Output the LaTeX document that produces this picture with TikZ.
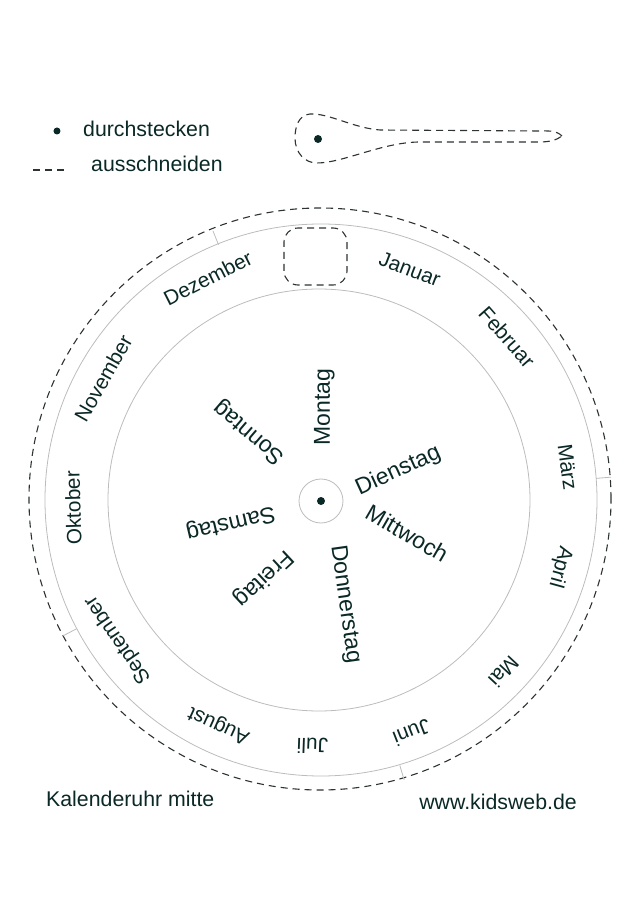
\documentclass[tikz,border=0pt]{standalone}
\usepackage{fontspec}
\setmainfont{Liberation Sans}
\usepackage{xcolor}
\usepackage{tikz}

\definecolor{ink}{RGB}{10,40,38}
\definecolor{rim}{RGB}{188,188,188}
\definecolor{cut}{RGB}{45,50,50}

\begin{document}
\begin{tikzpicture}[
    x=1pt, y=1pt,
    month/.style={text=ink, font=\fontsize{20.8}{24}\selectfont, inner sep=0pt},
    day/.style={text=ink, font=\fontsize{23}{27}\selectfont, inner sep=0pt},
    label/.style={text=ink, font=\fontsize{21.3}{25}\selectfont, inner sep=0pt},
    rimline/.style={draw=rim, line width=0.8pt},
    cutline/.style={draw=cut, line width=1.1pt, dash pattern=on 7pt off 5pt}
]
\useasboundingbox (-321,-404) rectangle (319,501);

% key
\fill[ink] (-264,370) circle (3.5);
\node[label, anchor=base west] (pierce) at (-238,364) {durchstecken};
\coordinate (cutA) at (-288,331);
\coordinate (cutB) at (-253,331);
\draw[cutline] (cutA) -- (cutB);
\node[label, anchor=base west] (cutout) at (-230,329) {ausschneiden};

% pointer
\draw[cutline] (241,365) .. controls (235,371) and (226,370) .. (219,370) -- (59,371)
    .. controls (32,373) and (8,388) .. (-11,387) .. controls (-22,386) and (-26,375) .. (-26,363)
    .. controls (-26,348) and (-16,338) .. (-4,338) .. controls (22,338) and (62,359) .. (99,359)
    -- (219,359) .. controls (228,359) and (236,361) .. cycle;
\fill[ink] (-3,362) circle (4);

% wheel
\draw[cutline] (-1,2) circle (291);
\draw[rimline] (0,1) circle (276);
\draw[rimline] (-2,1) circle (211);
\draw[rimline] (0,0) circle (22);
\fill[ink] (0,0) circle (4);
\foreach \a in {111.8, 4.7, -73.4, 207.6}
  \draw[rimline] (\a:276) -- (\a:291);
\draw[cutline, rounded corners=14pt] (-37,216) rectangle (26,273);

\foreach \name/\a/\r [count=\i] in {Januar/69/248, Februar/41.4/248, März/7.8/249,
    April/-15.4/248, Mai/-43/250, Juni/-68.6/249, Juli/-92/245, August/-114.5/246,
    September/-145.6/246, Oktober/-178.4/248, November/150.6/250, Dezember/116.9/250}
  \node[month, rotate=\a-90] (m\i) at (\a:\r) {\name};

\foreach \name/\a/\r/\t [count=\i] in {Montag/88/94/90, Dienstag/21.2/83/24.6,
    Mittwoch/-20.6/92/-30, Donnerstag/-76.9/106/-82, Freitag/-126.7/96/-137,
    Samstag/-166.4/93/-166.6, Sonntag/136/99/139.3}
  \node[day, rotate=\t] (d\i) at (\a:\r) {\name};

% footer
\node[label, anchor=base west] (title) at (-275,-305) {Kalenderuhr mitte};
\node[label, anchor=base east] (site) at (256,-308) {www.kidsweb.de};
\end{tikzpicture}
\end{document}
